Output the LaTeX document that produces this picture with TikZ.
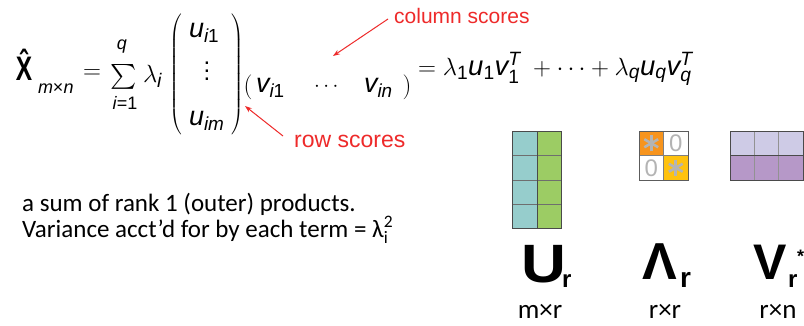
\documentclass[tikz,border=0pt]{standalone}
\usepackage{amsmath}
\usepackage{fontspec}
\setmainfont{Liberation Sans}
\newfontfamily\calib{Carlito}
\usetikzlibrary{arrows.meta}
\definecolor{lblred}{HTML}{EE2A2A}
\definecolor{teal}{HTML}{96CDCC}
\definecolor{leaf}{HTML}{9CCC64}
\definecolor{orng}{HTML}{F7941D}
\definecolor{yell}{HTML}{FFC20E}
\definecolor{lav}{HTML}{CECBE6}
\definecolor{purp}{HTML}{B698C8}
\definecolor{gridc}{HTML}{4A4A4A}
\definecolor{symg}{HTML}{B4B4B4}
\newcommand\mi[1]{\textit{#1}}
\newcommand\nd[1]{\textup{#1}}
\newcommand\fs[1]{\fontsize{#1}{#1}\selectfont}
\begin{document}
\begin{tikzpicture}[x=1pt,y=-1pt,
  fm/.style={inner sep=0pt, outer sep=0pt},
  lbl/.style={inner sep=0pt, text=lblred},
  redarrow/.style={draw=lblred, line width=1pt, -{Stealth[length=7pt,width=5pt]}},
  cellbox/.style={draw=gridc, line width=0.9pt},
  bigl/.style={inner sep=0pt, font=\bfseries},
  dimlbl/.style={inner sep=0pt, font=\calib\fs{27}}
]
\useasboundingbox (0,0) rectangle (804,325);
\fill[white] (0,0) rectangle (804,325);

% ---- formula ----
\node[fm, anchor=base west] (X) at (16,80) {\fs{34}\scalebox{0.72}[1]{\textbf{\^{X}}}};
\node[fm, anchor=base west] (Xsub) at (38,93) {\fs{18}\mi{m}×\mi{n}};
\node[fm] (eq1) at (92,74) {\fs{26}$=$};
\node[fm] (sum) at (124,77) {\fs{28}$\sum$};
\node[fm] (sumq) at (122,47) {\fs{18}\mi{q}};
\node[fm] (sumi) at (125,103) {\fs{18}\mi{i}=1};
\node[fm, anchor=base west] (lam) at (143,82) {\fs{28}$\lambda_{\mi{i}}$};
\node[fm] (lpar) at (176,75) {\fs{14}$\left(\vrule height 59pt depth 59pt width 0pt\right.$};
\node[fm] (rpar) at (237,75) {\fs{14}$\left.\vrule height 59pt depth 59pt width 0pt\right)$};
\node[fm, anchor=base west] (ui1) at (189,37) {\fs{27}$\mi{u}_{\mi{i}\nd{1}}$};
\node[fm] (vd) at (207,71) {\fs{24}\vbox{\baselineskip=8pt\hbox{.}\hbox{.}\hbox{.}}};
\node[fm, anchor=base west] (uim) at (189,125) {\fs{27}$\mi{u}_{\mi{im}}$};
\node[fm] (lp2) at (248,87) {\fs{30}$($};
\node[fm, anchor=base west] (vi1) at (256,92) {\fs{27}$\mi{v}_{\mi{i}\nd{1}}$};
\node[fm] (hd) at (328,87) {\fs{22}$\cdots$};
\node[fm, anchor=base west] (vin) at (364,92) {\fs{27}$\mi{v}_{\mi{in}}$};
\node[fm] (rp2) at (407,87) {\fs{30}$)$};
\node[fm, anchor=base west] (rhs) at (418,75) {\fs{27.5}$=\lambda_{\nd{1}}\mi{u}_{\nd{1}}\mi{v}_{\nd{1}}^{\mi{T}}\;+\cdots+\lambda_{\mi{q}}\mi{u}_{\mi{q}}\mi{v}_{\mi{q}}^{\mi{T}}$};

% ---- labels with arrows ----
\node[lbl, anchor=base west] (colsc) at (394,23) {\fs{21}column scores};
\node[lbl, anchor=base west] (rowsc) at (294,147) {\fs{23}row scores};
\coordinate (colend) at (333,56);
\coordinate (rowend) at (245,106);
\draw[redarrow] (388,19) coordinate (colstart) -- (colend);
\draw[redarrow] (283,136) coordinate (rowstart) -- (rowend);

% ---- text ----
\node[inner sep=0pt, anchor=base west, font=\calib\fs{25}] (t1) at (22,211) {a sum of rank 1 (outer) products.};
\node[inner sep=0pt, anchor=base west, font=\calib\fs{25}] (t2) at (22,237) {Variance acct’d for by each term = λ$_{\text{i}}^{\text{2}}$};

% ---- U matrix ----
\fill[teal] (512,131) rectangle (537,228);
\fill[leaf] (537,131) rectangle (561,228);
\foreach \yy in {155,180,204} \draw[gridc!80, line width=0.8pt] (512,\yy) -- (561,\yy);
\draw[cellbox] (537,131) -- (537,228);
\draw[cellbox] (512,131) rectangle (561,228);

% ---- Lambda matrix ----
\fill[orng] (639,131) rectangle (663.5,155.5);
\fill[yell] (663.5,155.5) rectangle (688,180);
\draw[gridc!70, line width=0.8pt] (663.5,131) -- (663.5,180) (639,155.5) -- (688,155.5);
\draw[gridc!90, line width=0.9pt] (639,131) rectangle (688,180);
\foreach \cx/\cy in {651.25/143.25, 675.75/167.75} {
  \foreach \ang in {90,30,150} \draw[symg, line width=2.6pt] (\cx,\cy) ++(\ang:8) -- ++(\ang+180:16);
}
\node[inner sep=0pt, text=symg, font=\fs{24}] (z1) at (675.75,143.25) {0};
\node[inner sep=0pt, text=symg, font=\fs{24}] (z2) at (651.25,167.75) {0};

% ---- V* matrix ----
\fill[lav] (730,131) rectangle (803,155.5);
\fill[purp] (730,155.5) rectangle (803,180);
\foreach \xx in {754.3,778.7} \draw[gridc!60, line width=0.7pt] (\xx,131) -- (\xx,180);
\draw[cellbox] (730,155.5) -- (803,155.5);
\draw[cellbox] (730,131) rectangle (803,180);

% ---- big labels ----
\node[bigl, anchor=base west] (Ur) at (521,282) {\fs{54}\scalebox{1.15}[1]{U}};
\node[bigl, anchor=base west] (Urs) at (562,287) {\fs{24}r};
\node[bigl, anchor=base west] (Lr) at (642,279) {\fs{52}Λ};
\node[bigl, anchor=base west] (Lrs) at (680,287) {\fs{28}r};
\node[bigl, anchor=base west] (Vr) at (753,279) {\fs{50}V};
\node[bigl, anchor=base west] (Vrs) at (788,287) {\fs{24}r};
\node[bigl, anchor=base west] (Vst) at (797,262) {\fs{18}*};

\node[dimlbl, anchor=base] (d1) at (540,318) {m×r};
\node[dimlbl, anchor=base] (d2) at (665,318) {r×r};
\node[dimlbl, anchor=base] (d3) at (778,318) {r×n};
\end{tikzpicture}
\end{document}
